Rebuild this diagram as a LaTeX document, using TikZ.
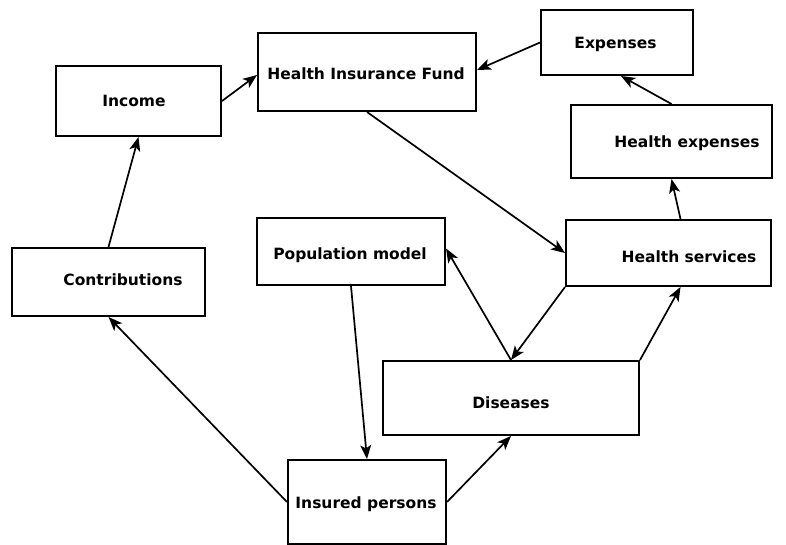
\documentclass[tikz,border=0pt]{standalone}
\usepackage{fontspec}
\setmainfont{DejaVu Sans}
\usetikzlibrary{arrows.meta}

\tikzset{
	box/.style={draw, line width=2pt, rectangle, inner sep=0pt},
	lbl/.style={anchor=base, inner sep=0pt, font=\fontsize{15.5}{18}\selectfont\bfseries},
	flow/.style={->, line width=1.7pt}
}

\begin{document}
\begin{tikzpicture} [x=1pt, y=-1pt, >={Stealth[length=14pt,width=11pt,inset=3.5pt]}]
	\useasboundingbox (0,0) rectangle (786,545);
	%%%	Boxes
	\node[box, minimum width=165, minimum height=70] (inc) at (138.5,101) {};
	\node[box, minimum width=218, minimum height=78] (hif) at (367,72) {};
	\node[box, minimum width=152, minimum height=65] (exp) at (617,42.5) {};
	\node[box, minimum width=201, minimum height=73] (hexp) at (671.5,141.5) {};
	\node[box, minimum width=193, minimum height=68] (contr) at (108.5,282) {};
	\node[box, minimum width=188, minimum height=67] (pop) at (351,251.5) {};
	\node[box, minimum width=205, minimum height=66] (hserv) at (668.5,253) {};
	\node[box, minimum width=256, minimum height=74] (dis) at (511,398) {};
	\node[box, minimum width=158, minimum height=84] (ins) at (367,502) {};
	%%%	Labels
	\node[lbl] (incT) at (134,106.6) {Income};
	\node[lbl] (hifT) at (366,79.6) {Health Insurance Fund};
	\node[lbl] (expT) at (615.5,48.6) {Expenses};
	\node[lbl] (hexpT) at (687,147.6) {Health expenses};
	\node[lbl] (contrT) at (123,285.6) {Contributions};
	\node[lbl] (popT) at (350,259.6) {Population model};
	\node[lbl] (hservT) at (689,262.6) {Health services};
	\node[lbl] (disT) at (511,408.6) {Diseases};
	\node[lbl] (insT) at (366,508.6) {Insured persons};
	%%%	Arrows
	\draw[flow] (contr.north) -- (inc.south);
	\draw[flow] (inc.east) -- ([yshift=-3]hif.west);
	\draw[flow] (exp.west) -- ([yshift=2]hif.east);
	\draw[flow] (hif.south) -- (hserv.west);
	\draw[flow] (hexp.north) -- ([xshift=4]exp.south);
	\draw[flow] ([xshift=12]hserv.north) -- (hexp.south);
	\draw[flow] (hserv.south west) -- (dis.north);
	\draw[flow] (dis.north) -- ([yshift=3]pop.east);
	\draw[flow] (dis.north east) -- ([xshift=12]hserv.south);
	\draw[flow] (ins.east) -- (dis.south);
	\draw[flow] (ins.west) -- (contr.south);
	\draw[flow] (pop.south) -- (ins.north);
\end{tikzpicture}
\end{document}
